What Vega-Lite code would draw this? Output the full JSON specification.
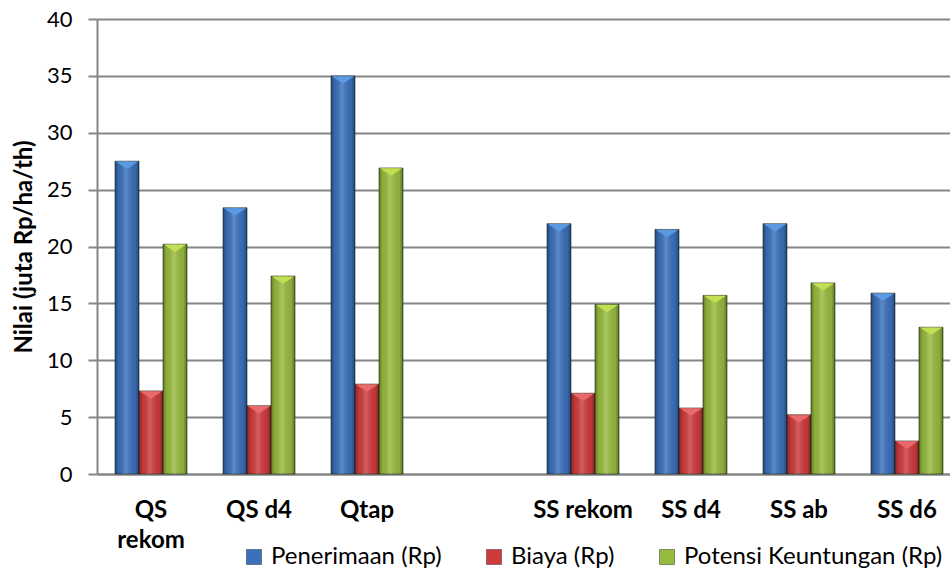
{
  "$schema": "https://vega.github.io/schema/vega-lite/v6.json",
  "width": 853,
  "height": 455,
  "autosize": {"type": "none"},
  "padding": {"left": 97, "top": 19, "right": 0, "bottom": 101},
  "background": "white",
  "config": {
    "font": "Lato",
    "view": {"stroke": null}
  },
  "data": {
    "values": [
      {"perlakuan": "QS rekom", "komponen": "Penerimaan (Rp)", "nilai": 27.5},
      {"perlakuan": "QS rekom", "komponen": "Biaya (Rp)", "nilai": 7.3},
      {"perlakuan": "QS rekom", "komponen": "Potensi Keuntungan (Rp)", "nilai": 20.2},
      {"perlakuan": "QS d4", "komponen": "Penerimaan (Rp)", "nilai": 23.4},
      {"perlakuan": "QS d4", "komponen": "Biaya (Rp)", "nilai": 6.0},
      {"perlakuan": "QS d4", "komponen": "Potensi Keuntungan (Rp)", "nilai": 17.4},
      {"perlakuan": "Qtap", "komponen": "Penerimaan (Rp)", "nilai": 35.0},
      {"perlakuan": "Qtap", "komponen": "Biaya (Rp)", "nilai": 7.9},
      {"perlakuan": "Qtap", "komponen": "Potensi Keuntungan (Rp)", "nilai": 26.9},
      {"perlakuan": "SS rekom", "komponen": "Penerimaan (Rp)", "nilai": 22.0},
      {"perlakuan": "SS rekom", "komponen": "Biaya (Rp)", "nilai": 7.1},
      {"perlakuan": "SS rekom", "komponen": "Potensi Keuntungan (Rp)", "nilai": 14.9},
      {"perlakuan": "SS d4", "komponen": "Penerimaan (Rp)", "nilai": 21.5},
      {"perlakuan": "SS d4", "komponen": "Biaya (Rp)", "nilai": 5.8},
      {"perlakuan": "SS d4", "komponen": "Potensi Keuntungan (Rp)", "nilai": 15.7},
      {"perlakuan": "SS ab", "komponen": "Penerimaan (Rp)", "nilai": 22.0},
      {"perlakuan": "SS ab", "komponen": "Biaya (Rp)", "nilai": 5.2},
      {"perlakuan": "SS ab", "komponen": "Potensi Keuntungan (Rp)", "nilai": 16.8},
      {"perlakuan": "SS d6", "komponen": "Penerimaan (Rp)", "nilai": 15.9},
      {"perlakuan": "SS d6", "komponen": "Biaya (Rp)", "nilai": 2.9},
      {"perlakuan": "SS d6", "komponen": "Potensi Keuntungan (Rp)", "nilai": 12.9}
    ]
  },
  "encoding": {
    "x": {
      "field": "perlakuan",
      "type": "nominal",
      "scale": {
        "domain": ["QS rekom", "QS d4", "Qtap", "", "SS rekom", "SS d4", "SS ab", "SS d6"],
        "range": [0, 864],
        "paddingInner": 0.3333,
        "paddingOuter": 0.1667
      },
      "axis": {
        "title": null,
        "labelAngle": 0,
        "labelFont": "Lato",
        "labelFontWeight": "bold",
        "labelFontSize": 24,
        "labelColor": "#000000",
        "labelPadding": 24,
        "labelLineHeight": 30,
        "labelBaseline": "top",
        "labelExpr": "datum.value == 'QS rekom' ? ['QS', 'rekom'] : datum.value",
        "ticks": false,
        "domainColor": "#868686",
        "domainWidth": 2,
        "grid": false
      }
    },
    "xOffset": {
      "field": "komponen",
      "type": "nominal",
      "scale": {
        "domain": ["Penerimaan (Rp)", "Biaya (Rp)", "Potensi Keuntungan (Rp)"],
        "paddingInner": 0,
        "paddingOuter": 0
      }
    },
    "y": {
      "field": "nilai",
      "type": "quantitative",
      "scale": {"domain": [0, 40], "nice": false},
      "axis": {
        "title": "Nilai (juta Rp/ha/th)",
        "titleFont": "Lato",
        "titleFontSize": 24,
        "titleFontWeight": "bold",
        "titleColor": "#000000",
        "titlePadding": 10,
        "values": [0, 5, 10, 15, 20, 25, 30, 35, 40],
        "labelFont": "Lato",
        "labelFontSize": 22,
        "labelColor": "#000000",
        "labelPadding": 16,
        "tickSize": 9,
        "tickColor": "#868686",
        "tickWidth": 2,
        "domainColor": "#868686",
        "domainWidth": 2,
        "gridColor": "#868686",
        "gridWidth": 2
      }
    }
  },
  "layer": [
    {
      "mark": {"type": "bar", "stroke": "#1d2a14", "strokeWidth": 1, "strokeOpacity": 0.6},
      "encoding": {
        "color": {
          "field": "komponen",
          "type": "nominal",
          "scale": {
            "domain": ["Penerimaan (Rp)", "Biaya (Rp)", "Potensi Keuntungan (Rp)"],
            "range": ["#3a70bc", "#cf3a3d", "#97bb3e"]
          },
          "legend": {
            "title": null,
            "orient": "none",
            "direction": "horizontal",
            "legendX": 145,
            "legendY": 526,
            "symbolType": "square",
            "symbolSize": 225,
            "symbolStrokeColor": "#333333",
            "symbolStrokeWidth": 0.5,
            "labelFont": "Lato",
            "labelFontSize": 24,
            "labelColor": "#000000",
            "labelOffset": 5,
            "labelLimit": 400,
            "columnPadding": 40
          }
        }
      }
    },
    {
      "mark": {
        "type": "bar",
        "fill": {
          "gradient": "linear",
          "x1": 0, "y1": 0, "x2": 1, "y2": 0,
          "stops": [
            {"offset": 0, "color": "rgba(0,0,0,0.35)"},
            {"offset": 0.15, "color": "rgba(0,0,0,0.08)"},
            {"offset": 0.45, "color": "rgba(255,255,255,0.18)"},
            {"offset": 0.85, "color": "rgba(0,0,0,0.08)"},
            {"offset": 1, "color": "rgba(0,0,0,0.4)"}
          ]
        }
      },
      "encoding": {}
    },
    {
      "mark": {
        "type": "point",
        "shape": "M -1 -0.33 L 1 -0.33 L 0 0.33 Z",
        "size": 500,
        "filled": true,
        "opacity": 1,
        "yOffset": 4
      },
      "encoding": {
        "fill": {
          "field": "komponen",
          "type": "nominal",
          "scale": {
            "domain": ["Penerimaan (Rp)", "Biaya (Rp)", "Potensi Keuntungan (Rp)"],
            "range": ["#5b9ae3", "#e86a6c", "#c2de52"]
          },
          "legend": null
        }
      }
    }
  ]
}
